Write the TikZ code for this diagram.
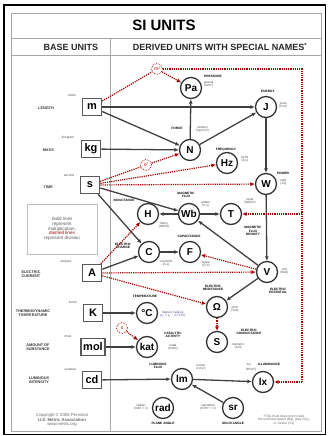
\documentclass[tikz,border=0pt]{standalone}
\usepackage{fontspec}
\setmainfont{Liberation Sans}
\usetikzlibrary{arrows.meta, calc}
\newcommand{\fsz}[1]{\fontsize{#1}{#1}\selectfont}

\begin{document}
\begin{tikzpicture}[x=1pt, y=-1pt,
  base/.style={draw=black!65, line width=1.6pt, minimum width=19, minimum height=17, inner sep=2.5, font=\fsz{11}\bfseries},
  unit/.style={circle, draw=black!80, line width=1.3pt, minimum size=21, inner sep=0, font=\fsz{10}\bfseries},
  pow/.style={circle, draw=red!70!black, densely dotted, line width=0.7pt, minimum size=11, inner sep=0, text=red!70!black, font=\fsz{5}},
  mul/.style={black!75, line width=1.3pt, -{Latex[length=4.5pt, width=4pt]}},
  dvd/.style={red!65!black, line width=1.2pt, densely dotted, -{Latex[length=4.5pt, width=4pt]}},
  dvdline/.style={red!65!black, line width=1.2pt, densely dotted},
  qty/.style={font=\fsz{3.2}\bfseries, align=center, inner sep=0},
  nm/.style={font=\fsz{3.2}, text=black!70, align=center, inner sep=0},
  bqty/.style={font=\fsz{3.8}\bfseries, text=black!80, align=center, inner sep=0},
  bnm/.style={font=\fsz{3.2}, text=black!70, inner sep=0},
  hdr/.style={font=\fsz{9}\bfseries, text=black!85, inner sep=0}]
\useasboundingbox (0,0) rectangle (327,436);
\draw[line width=1.6pt] (4,5) rectangle (325.5,434.5);
\draw[black!35, line width=0.5pt] (11,13) rectangle (321,431);
\draw[black!35, line width=0.5pt] (11,38) -- (321,38);
\draw[black!35, line width=0.5pt] (11,55) -- (321,55);
\draw[black!35, line width=0.5pt] (110,38) -- (110,431);

\node[font=\fsz{15}\bfseries, inner sep=0] (title) at (164,25) {SI UNITS};
\node[hdr] (hbase) at (71,47) {BASE UNITS};
\node[hdr] (hder) at (220,47) {DERIVED UNITS WITH SPECIAL NAMES\textsuperscript{*}};

\node[base] (m) at (92,107) {m};
\node[base] (kg) at (91,149) {kg};
\node[base] (s) at (90,185) {s};
\node[base] (A) at (92,273) {A};
\node[base] (K) at (93,313) {K};
\node[base] (mol) at (93,347) {mol};
\node[base] (cd) at (92,380) {cd};

\node[bqty, anchor=east] (qm) at (54,108) {LENGTH};
\node[bqty, anchor=east] (qkg) at (54,150) {MASS};
\node[bqty, anchor=east] (qs) at (53,187) {TIME};
\node[bqty] (qA) at (31,274) {ELECTRIC\\CURRENT};
\node[bqty] (qK) at (33,313) {THERMODYNAMIC\\TEMPERATURE};
\node[bqty] (qmol) at (38,347) {AMOUNT OF\\SUBSTANCE};
\node[bqty] (qcd) at (39,380) {LUMINOUS\\INTENSITY};
\node[bnm] (nm) at (72,95) {meter};
\node[bnm] (nkg) at (68,138) {kilogram};
\node[bnm] (ns) at (69,175) {second};
\node[bnm] (nA) at (66,262) {ampere};
\node[bnm] (nK) at (73,302) {kelvin};
\node[bnm] (nmol) at (68,336) {mole};
\node[bnm] (ncd) at (70,369) {candela};

\node[draw=black!25, line width=0.5pt, minimum width=70, minimum height=50, align=center, font=\fsz{4.6}, text=black!65, inner sep=1] (key) at (62,229)
  {Solid lines\\represent\\multiplication,\\\textcolor{red!60!black}{dashed lines}\\represent division};

\node[unit] (Pa) at (191,88) {Pa};
\node[unit] (J) at (266,107) {J};
\node[unit] (N) at (190,150) {N};
\node[unit] (Hz) at (227,163) {Hz};
\node[unit] (W) at (266,184) {W};
\node[unit] (H) at (148,214) {H};
\node[unit] (Wb) at (189,214) {Wb};
\node[unit] (T) at (231,214) {T};
\node[unit] (C) at (149,252) {C};
\node[unit] (F) at (190,252) {F};
\node[unit] (V) at (267,272) {V};
\node[unit] (Om) at (217,307) {Ω};
\node[unit] (S) at (217,342) {S};
\node[unit] (degC) at (147,313) {°C};
\node[unit] (kat) at (147,347) {kat};
\node[unit] (lm) at (182,379) {lm};
\node[unit] (lx) at (263,382) {lx};
\node[unit] (rad) at (163,408) {rad};
\node[unit] (sr) at (233,408) {sr};

\node[pow] (m2) at (157,69) {m²};
\node[pow] (s2) at (146,165) {s²};
\node[pow] (s1) at (122,328) {s};

\node[qty] (qPa) at (213,76) {PRESSURE};
\node[nm, anchor=west] (nPa) at (204,84) {pascal\\(N/m²)};
\node[qty] (qJ) at (268,91) {ENERGY};
\node[nm, anchor=west] (nJ) at (279,105) {joule\\(N·m)};
\node[qty] (qN) at (177,128) {FORCE};
\node[nm, anchor=west] (nN) at (196,129) {newton\\(kg·m/s²)};
\node[qty] (qHz) at (226,150) {FREQUENCY};
\node[nm, anchor=west] (nHz) at (241,159) {hertz\\(1/s)};
\node[qty] (qW) at (283,173) {POWER};
\node[nm, anchor=west] (nW) at (280,182) {watt\\(J/s)};
\node[qty] (qWb) at (186,195) {MAGNETIC\\FLUX};
\node[nm, anchor=west] (nWb) at (201,204) {weber\\(V·s)};
\node[qty] (qH) at (124,200) {INDUCTANCE};
\node[nm] (nH) at (164,225) {henry\\(Wb/A)};
\node[nm] (nT) at (250,201) {tesla\\(Wb/m²)};
\node[qty] (qT) at (253,231) {MAGNETIC\\FLUX\\DENSITY};
\node[qty] (qC) at (123,246) {ELECTRIC\\CHARGE};
\node[nm] (nC) at (166,263) {coulomb\\(A·s)};
\node[qty] (qF) at (189,236) {CAPACITANCE};
\node[nm] (nF) at (206,264) {farad\\(C/V)};
\node[nm, anchor=west] (nV) at (280,271) {volt\\(W/A)};
\node[qty] (qV) at (278,291) {ELECTRIC\\POTENTIAL};
\node[qty] (qOm) at (213,288) {ELECTRIC\\RESISTANCE};
\node[nm, anchor=west] (nOm) at (231,309) {ohm\\(V/A)};
\node[qty] (qdegC) at (145,296) {TEMPERATURE};
\node[nm, anchor=west, text=blue!35!black!70] (ndegC) at (160,314) {degree Celsius\\(t\textsubscript{C} = t\textsubscript{K} − 273.15)};
\node[qty] (qS) at (249,332) {ELECTRIC\\CONDUCTANCE};
\node[nm, anchor=west] (nS) at (232,346) {siemens\\(1/Ω)};
\node[qty] (qkat) at (173,335) {CATALYTIC\\ACTIVITY};
\node[nm] (nkat) at (173,347) {katal\\(mol/s)};
\node[qty] (qlm) at (158,366) {LUMINOUS\\FLUX};
\node[nm] (nlm) at (201,367) {lumen\\(cd·sr)};
\node[nm] (nlx) at (249,364) {lux};
\node[qty] (qlx) at (269,364) {ILLUMINANCE};
\node[nm] (nlx2) at (251,370) {(lm/m²)};
\node[nm] (nrad) at (141,407) {radian\\(m/m = 1)};
\node[qty] (qrad) at (163,423) {PLANE ANGLE};
\node[nm] (nsr) at (208,407) {steradian\\(m²/m² = 1)};
\node[qty] (qsr) at (233,423) {SOLID ANGLE};

\node[font=\fsz{4.3}, text=black!60, align=center, inner sep=0] (copy) at (62,420)
  {Copyright © 2006 Personal\\\textbf{U.S. Metric Association}\\www.metric.org};
\node[font=\fsz{3.3}, text=black!60, align=center, inner sep=0] (note) at (284,420)
  {*This chart does not include\\the units becquerel (Bq), gray (Gy),\\or sievert (Sv)};

\coordinate (rtop) at (302,69);
\coordinate (rT) at (302,214);
\coordinate (rbot) at (302,382);

\draw[mul] (m) -- (J);
\draw[mul] (m) -- (N);
\draw[mul] (kg) -- (N);
\draw[mul] (N) -- (Pa);
\draw[mul] (N) -- (J);
\draw[mul] (J) -- (W);
\draw[mul] (W) -- (V);
\draw[mul] (V) -- (Wb);
\draw[mul] (s) -- (Wb);
\draw[mul] (s) -- (C);
\draw[mul] (A) -- (C);
\draw[mul] (Wb) -- (H);
\draw[mul] (Wb) -- (T);
\draw[mul] (C) -- (F);
\draw[mul] (V) -- (Om);
\draw[mul] (K) -- (degC);
\draw[mul] (mol) -- (kat);
\draw[mul] (cd) -- (lm);
\draw[mul] (lm) -- (lx);
\draw[mul] (sr) -- (lm);

\draw[dvdline] (m) -- (m2);
\draw[dvd] (m2) -- (Pa);
\draw[dvdline] (m2) -- (rtop) -- (rbot);
\draw[dvd] (rT) -- (T);
\draw[dvd] (rbot) -- (lx);
\draw[dvdline] (s) -- (s2);
\draw[dvd] (s2) -- (N);
\draw[dvd] (s) -- (Hz);
\draw[dvd] (s) -- (W);
\draw[dvd] (A) -- (H);
\draw[dvd] (A) -- (V);
\draw[dvd] (A) -- (Om);
\draw[dvd] (V) -- (F);
\draw[dvd] (Om) -- (S);
\draw[dvd] (s1) -- (kat);
\end{tikzpicture}
\end{document}
